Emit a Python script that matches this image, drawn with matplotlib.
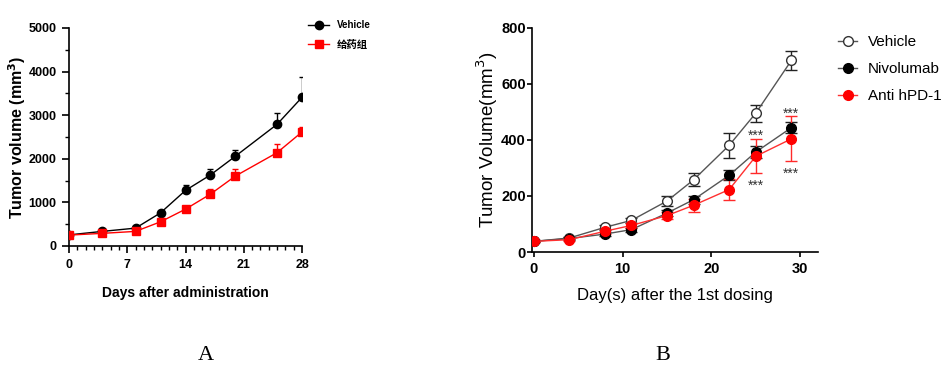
import numpy as np
import matplotlib
matplotlib.use('Agg')
from matplotlib import pyplot as plt
from matplotlib.ticker import MultipleLocator

# panel A: days after administration
days_a = [0, 4, 8, 11, 14, 17, 20, 25, 28]
vehicle_a = [255, 335, 410, 760, 1275, 1630, 2060, 2790, 3410]
vehicle_a_err = [30, 30, 40, 50, 120, 130, 150, 250, 460]
drug_a = [250, 290, 335, 555, 845, 1190, 1605, 2140, 2615]
drug_a_err = [30, 30, 30, 50, 60, 115, 170, 190, 120]
labels_a = ['Vehicle', '给药组']

# panel B: days after first dosing
days_b = [0, 4, 8, 11, 15, 18, 22, 25, 29]
vehicle_b = [38, 50, 88, 113, 182, 258, 381, 496, 684]
vehicle_b_err = [4, 5, 8, 9, 19, 24, 44, 30, 33]
nivo_b = [38, 48, 64, 80, 139, 187, 274, 357, 444]
nivo_b_err = [4, 5, 6, 7, 10, 14, 18, 22, 20]
anti_b = [38, 44, 74, 95, 130, 167, 223, 342, 404]
anti_b_err = [4, 5, 8, 9, 12, 23, 38, 60, 80]
labels_b = ['Vehicle', 'Nivolumab', 'Anti hPD-1']
stars_x = [25, 25, 29, 29]
stars_y = [429, 252, 508, 296]

sans = ['Liberation Sans', 'DejaVu Sans']

fig = plt.figure(figsize=(9.5, 3.72), dpi=100)

# ---------- A ----------
ax = fig.add_axes([69 / 950, 1 - 246 / 372, 233 / 950, 218 / 372])
ax.errorbar(days_a, vehicle_a, yerr=[np.zeros(len(days_a)), vehicle_a_err], fmt='none',
            ecolor='black', elinewidth=1, capsize=2.5, capthick=1, zorder=2)
ax.errorbar(days_a, drug_a, yerr=[np.zeros(len(days_a)), drug_a_err], fmt='none',
            ecolor='red', elinewidth=1, capsize=2.5, capthick=1, zorder=2)
l1, = ax.plot(days_a, vehicle_a, '-o', color='black', lw=1, ms=6, zorder=3)
l2, = ax.plot(days_a, drug_a, '-s', color='red', lw=1, ms=5.5, zorder=3)
ax.set_xlim(0, 28)
ax.set_ylim(0, 5000)
ax.set_xticks([0, 7, 14, 21, 28])
ax.set_yticks([0, 1000, 2000, 3000, 4000, 5000])
ax.xaxis.set_minor_locator(MultipleLocator(1))
ax.yaxis.set_minor_locator(MultipleLocator(500))
for s in ['top', 'right']:
    ax.spines[s].set_visible(False)
for s in ['left', 'bottom']:
    ax.spines[s].set_linewidth(1.2)
ax.tick_params(which='major', length=5, width=1.2, direction='out', pad=4)
ax.tick_params(which='minor', length=3, width=1, direction='out')
for t in ax.get_xticklabels() + ax.get_yticklabels():
    t.set_fontfamily(sans)
    t.set_fontweight('bold')
    t.set_fontsize(9)
ax.set_xlabel('Days after administration', family=sans, weight='bold', fontsize=10, labelpad=11)
ax.set_ylabel('Tumor volume (mm$^\\mathbf{3}$)', family=sans, weight='bold', fontsize=11.5, labelpad=0)
leg = fig.legend([l1, l2], labels_a, loc='upper left', bbox_to_anchor=(308 / 950, 1 - 20 / 372),
                 frameon=False, borderpad=0, borderaxespad=0,
                 handlelength=2.2, handletextpad=0.8, labelspacing=1.0,
                 prop={'family': sans, 'weight': 'bold', 'size': 7})
leg.get_texts()[1].set_fontfamily(['Noto Sans CJK SC'])
leg.get_texts()[1].set_fontsize(7.5)

# ---------- B ----------
bx = fig.add_axes([532 / 950, 1 - 252 / 372, 286 / 950, 224 / 372])
bx.errorbar(days_b, vehicle_b, yerr=vehicle_b_err, fmt='none', ecolor='#222222',
            elinewidth=1, capsize=4, capthick=1, zorder=2)
bx.errorbar(days_b, nivo_b, yerr=nivo_b_err, fmt='none', ecolor='#222222',
            elinewidth=1, capsize=4, capthick=1, zorder=2)
bx.errorbar(days_b, anti_b, yerr=anti_b_err, fmt='none', ecolor='#ff2a2a',
            elinewidth=1, capsize=4, capthick=1, zorder=2)
m1, = bx.plot(days_b, vehicle_b, '-o', color='#555555', mfc='white', mec='#333333', mew=1,
              lw=1, ms=7, zorder=3)
m2, = bx.plot(days_b, nivo_b, '-o', color='#555555', mfc='black', mec='black', lw=1, ms=7, zorder=4)
m3, = bx.plot(days_b, anti_b, '-o', color='#ff3030', mfc='red', mec='red', lw=1, ms=7, zorder=5)
for x, y in zip(stars_x, stars_y):
    bx.annotate('***', (x, y), xytext=(0, -3), textcoords='offset points', ha='center', va='center',
                fontsize=10, color='#333333', family=sans)
bx.set_xlim(-0.2, 32)
bx.set_ylim(0, 800)
bx.set_xticks([0, 10, 20, 30])
bx.set_yticks([0, 200, 400, 600, 800])
for s in ['top', 'right']:
    bx.spines[s].set_visible(False)
for s in ['left', 'bottom']:
    bx.spines[s].set_linewidth(1.2)
bx.tick_params(length=3.5, width=1.2, direction='out')
bx.tick_params(axis='y', pad=1)
bx.tick_params(axis='x', pad=4)
for t in bx.get_xticklabels() + bx.get_yticklabels():
    t.set_fontfamily(sans)
    t.set_fontweight('bold')
    t.set_fontsize(10.5)
bx.set_xlabel('Day(s) after the 1st dosing', family=sans, fontsize=12, labelpad=8)
bx.set_ylabel('Tumor Volume(mm$^3$)', family=sans, fontsize=13.5, labelpad=1)
fig.legend([m1, m2, m3], labels_b, loc='upper left', bbox_to_anchor=(838 / 950, 1 - 35 / 372),
           frameon=False, borderpad=0, borderaxespad=0,
           handlelength=1.25, handletextpad=0.7, labelspacing=0.85,
           prop={'family': sans, 'size': 11})

fig.text(206 / 950, 1 - 355 / 372, 'A', family='Liberation Serif', fontsize=16, ha='center', va='center')
fig.text(663 / 950, 1 - 355 / 372, 'B', family='Liberation Serif', fontsize=16, ha='center', va='center')

fig.savefig('out.png', dpi=100)
